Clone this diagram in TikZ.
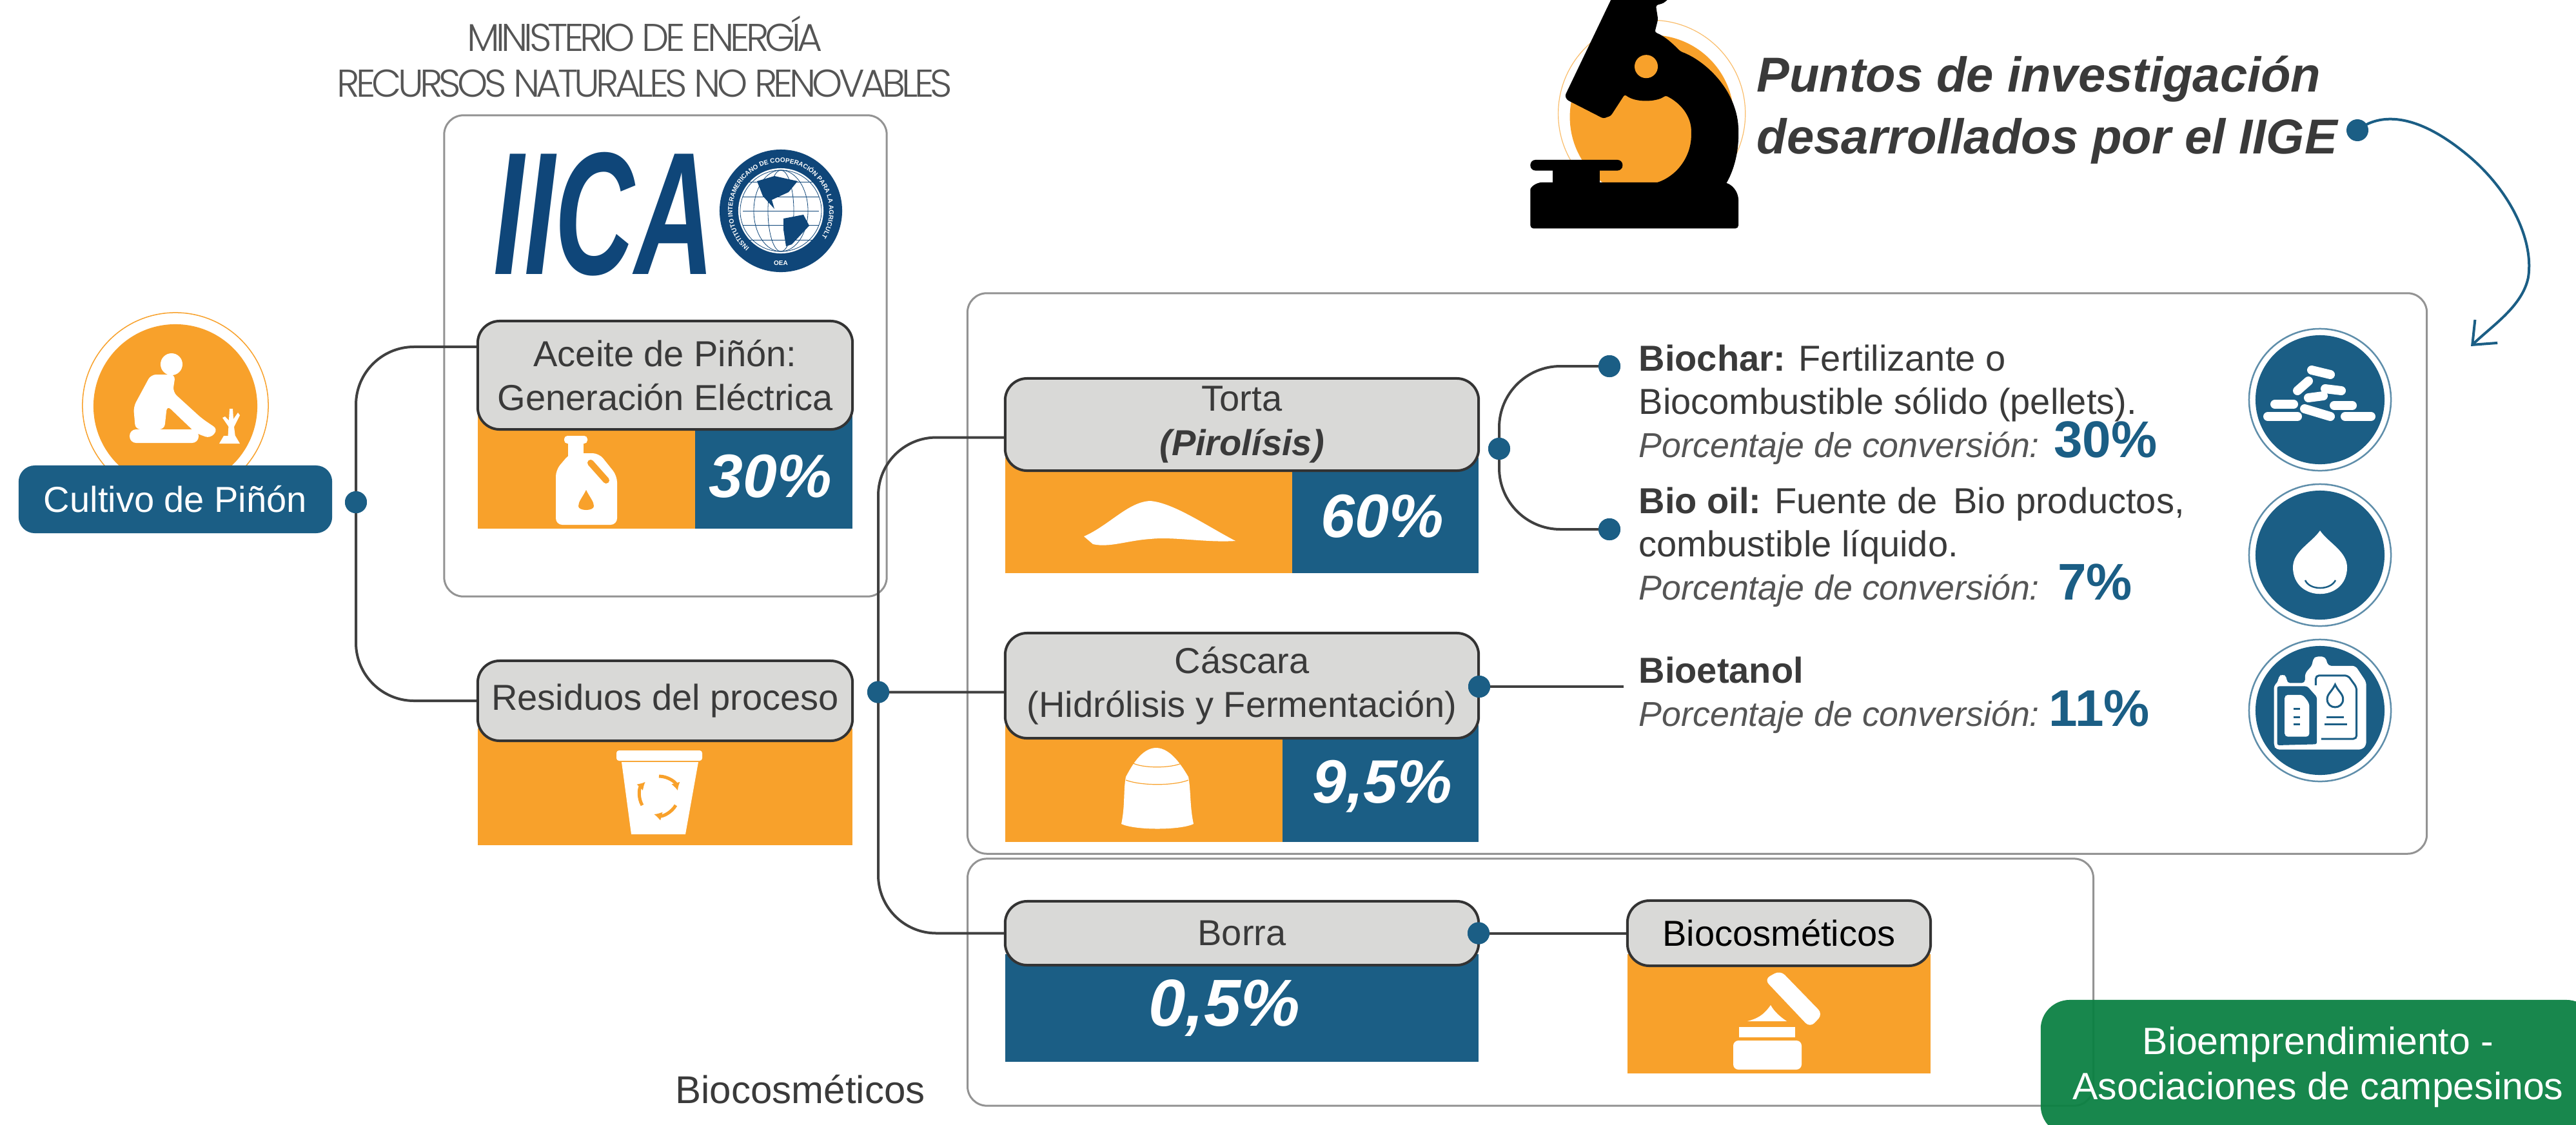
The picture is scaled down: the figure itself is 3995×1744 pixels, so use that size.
\documentclass[tikz,border=0pt]{standalone}
\usepackage{fontspec}
\usepackage{xcolor}
\usepackage{graphicx}
\usepackage{tikz}
\usetikzlibrary{arrows.meta,decorations.text}
\setmainfont{Liberation Sans}
\newfontfamily\thinfont[LetterSpace=-9.5]{Poppins Light}
\definecolor{orangepanel}{HTML}{F8A12B}
\definecolor{bluepanel}{HTML}{1B5E85}
\definecolor{grayhead}{HTML}{D9D9D7}
\definecolor{textdark}{HTML}{3A3A3A}
\definecolor{textgray}{HTML}{555555}
\definecolor{greenbox}{HTML}{0A8042}
\definecolor{navyiica}{HTML}{0F4679}
\newcommand{\convtxt}[2]{{\fontsize{0.537cm}{0.665cm}\selectfont\itshape\color{textgray}Porcentaje de conversión:}\hspace{#1}\smash{\fontsize{0.8cm}{0.8cm}\selectfont\bfseries\color{bluepanel}#2}}
\tikzset{
  framebox/.style={draw=gray!85, line width=0.03cm, rounded corners=0.3cm},
  headbox/.style={draw=black!80, fill=grayhead, line width=0.04cm, rounded corners=0.34cm, text=textdark, align=center, inner sep=0, font=\fontsize{0.56cm}{0.68cm}\selectfont},
  panelorange/.style={fill=orangepanel, inner sep=0},
  panelblue/.style={fill=bluepanel, inner sep=0},
  pctnode/.style={text=white, inner sep=0, font=\fontsize{0.95cm}{1.1cm}\selectfont\bfseries\itshape},
  dotnode/.style={circle, fill=bluepanel, minimum size=0.34cm, inner sep=0},
  link/.style={draw=black!75, line width=0.04cm, rounded corners=0.9cm},
  bodytext/.style={text=textdark, align=left, inner sep=0, anchor=base west, font=\fontsize{0.56cm}{0.665cm}\selectfont},
  ringicon/.style={circle, fill=white, draw=bluepanel!70, line width=0.025cm, minimum size=2.2cm, inner sep=0}
}
\begin{document}
\begin{tikzpicture}[x=0.01cm, y=-0.01cm]%
\path[use as bounding box, fill=white] (0,0) rectangle (3995,1744);%
\node[framebox, minimum width=6.86cm, minimum height=7.46cm] (cajaiica) at (1032,552) {};%
\node[framebox, minimum width=22.62cm, minimum height=8.69cm] (cajaresearch) at (2632,889.5) {};%
\node[framebox, minimum width=17.45cm, minimum height=3.83cm] (cajabio) at (2373.5,1523.5) {};%
\node[text=textgray, align=center, font=\fontsize{0.6cm}{0.71cm}\selectfont\thinfont] (ministerio) at (1000,88) {MINISTERIO DE ENERGÍA\\RECURSOS NATURALES NO RENOVABLES};%
\node[text=navyiica, inner sep=0, anchor=base west, font=\fontsize{2.71cm}{2.71cm}\selectfont\bfseries\itshape] (logoiica) at (765,425) {\scalebox{0.63}[1]{IICA}};%
\fill[navyiica] (1211,327) circle[radius=0.95cm];%
\fill[white] (1211,327) circle[radius=0.66cm];%
\path[decorate, decoration={text along path, text align=center, text={|\fontsize{0.1cm}{0.12cm}\selectfont\bfseries\color{white}|INSTITUTO INTERAMERICANO DE COOPERACIÓN PARA LA AGRICULTURA}}] (1211,327)+(215:0.75cm) arc[start angle=215, end angle=-35, radius=0.75cm];%
\node[text=white, inner sep=0, font=\fontsize{0.1cm}{0.12cm}\selectfont\bfseries] (oea) at (1211,408) {OEA};%
\foreach \rx in {0.2,0.42,0.63} \draw[navyiica, line width=0.008cm] (1211,327) ellipse[x radius=\rx cm, y radius=0.63cm];%
\foreach \dy in {-45,-22,0,22,45} \draw[navyiica, line width=0.008cm] (1152,327+\dy) -- (1270,327+\dy);%
\fill[navyiica] (1174,281) -- (1201,273) -- (1237,281) -- (1223,298) -- (1197,310) -- (1201,324) -- (1183,304) -- cycle;%
\fill[navyiica] (1215,339) -- (1246,333) -- (1255,350) -- (1228,379) -- (1219,382) -- (1215,356) -- cycle;%
\draw[orangepanel, line width=0.015cm] (272,629) circle[radius=1.44cm];%
\fill[orangepanel] (272,630) circle[radius=1.27cm];%
\fill[white] (266,565) circle[radius=0.17cm];%
\fill[white, rounded corners=0.08cm] (234,581) -- (272,581) -- (268,608) -- (313,649) -- (338,666) -- (326,680) -- (304,672) -- (259,629) -- (255,666) -- (210,666) -- (207,631) -- cycle;%
\fill[white, rounded corners=0.1cm] (201,666) rectangle (308,687);%
\fill[white] (353,686) -- (356,634) -- (361,634) -- (362,650) -- (369,640) -- (372,644) -- (363,662) -- (366,686) -- cycle;%
\fill[white] (356,664) -- (345,648) -- (349,646) -- (358,655) -- cycle;%
\fill[white] (340,688) -- (372,688) -- (365,676) -- (347,676) -- cycle;%
\node[fill=bluepanel, rounded corners=0.25cm, text=white, minimum width=4.86cm, minimum height=1.05cm, inner sep=0, font=\fontsize{0.56cm}{0.68cm}\selectfont] (cultivo) at (272,774.5) {Cultivo de Piñón};%
\node[panelorange, minimum width=3.37cm, minimum height=1.8cm] (oaceite) at (909.5,730) {};%
\node[panelblue, minimum width=2.44cm, minimum height=1.8cm] (baceite) at (1200,730) {};%
\node[panelorange, minimum width=5.81cm, minimum height=1.81cm] (oresiduos) at (1031.5,1220.5) {};%
\node[panelorange, minimum width=4.45cm, minimum height=1.79cm] (otorta) at (1781.5,799.5) {};%
\node[panelblue, minimum width=2.89cm, minimum height=1.79cm] (btorta) at (2148.5,799.5) {};%
\node[panelorange, minimum width=4.3cm, minimum height=1.81cm] (ocascara) at (1774,1215.5) {};%
\node[panelblue, minimum width=3.04cm, minimum height=1.81cm] (bcascara) at (2141,1215.5) {};%
\node[panelblue, minimum width=7.34cm, minimum height=1.67cm] (bborra) at (1926,1563.5) {};%
\node[panelorange, minimum width=4.7cm, minimum height=1.85cm] (obiocos) at (2759,1572.5) {};%
\node[headbox, minimum width=5.81cm, minimum height=1.68cm] (aceite) at (1031.5,582) {Aceite de Piñón:\\Generación Eléctrica};%
\node[headbox, minimum width=5.81cm, minimum height=1.24cm] (residuos) at (1031.5,1087) {Residuos del proceso};%
\node[headbox, minimum width=7.34cm, minimum height=1.43cm] (torta) at (1926,658.5) {Torta\\{\bfseries\itshape (Pirolísis)}};%
\node[headbox, minimum width=7.34cm, minimum height=1.63cm] (cascara) at (1926,1063.5) {Cáscara\\(Hidrólisis y Fermentación)};%
\node[headbox, minimum width=7.34cm, minimum height=0.99cm] (borra) at (1926,1447.5) {Borra};%
\node[headbox, minimum width=4.7cm, minimum height=1.01cm, text=black] (biocos) at (2759,1447.5) {Biocosméticos};%
\node[pctnode] (vaceite) at (1195,739) {30\%};%
\node[pctnode] (vtorta) at (2144,801) {60\%};%
\node[pctnode] (vcascara) at (2144,1220) {9,5\%};%
\node[pctnode, font=\fontsize{1.03cm}{1.2cm}\selectfont\bfseries\itshape] (vborra) at (1899,1563) {0,5\%};%
\fill[white, rounded corners=0.05cm] (875,676) rectangle (911,688);%
\fill[white] (881,686) rectangle (905,710);%
\fill[white, rounded corners=0.1cm] (884,703) -- (929,703) -- (957,738) -- (957,814) -- (862,814) -- (862,729) -- cycle;%
\draw[orangepanel, line width=0.1cm, line cap=round] (916,718) -- (940,745);%
\fill[orangepanel] (909,760) .. controls (903,772) and (897,778) .. (897,785) .. controls (897,793) and (921,793) .. (921,785) .. controls (921,778) and (915,772) .. (909,760) -- cycle;%
\fill[white] (1681,832) .. controls (1720,815) and (1750,778) .. (1784,777) .. controls (1820,780) and (1870,815) .. (1916,839) .. controls (1870,842) and (1820,832) .. (1784,836) .. controls (1750,838) and (1720,850) .. (1695,844) -- cycle;%
\fill[white] (964,1182) -- (1083,1182) -- (1063,1294) -- (979,1294) -- cycle;%
\fill[white, rounded corners=0.04cm] (956,1164) rectangle (1089,1180);%
\foreach \a in {90,210,330} \draw[orangepanel, line width=0.05cm, -{Latex[length=0.12cm, width=0.14cm]}] (1022,1234)+(\a:0.3cm) arc[start angle=\a, delta angle=-75, radius=0.3cm];%
\fill[white] (1739,1278) .. controls (1745,1250) and (1742,1225) .. (1746,1205) .. controls (1754,1190) and (1770,1160) .. (1793,1160) .. controls (1816,1160) and (1834,1190) .. (1843,1205) .. controls (1847,1225) and (1845,1250) .. (1851,1278) .. controls (1830,1288) and (1760,1288) .. (1739,1278) -- cycle;%
\draw[orangepanel, line width=0.012cm] (1756,1183) .. controls (1770,1192) and (1818,1192) .. (1834,1183) (1746,1210) .. controls (1770,1219) and (1820,1219) .. (1843,1210);%
\fill[white, rounded corners=0.1cm] (2736,1519) -- (2761,1505) -- (2827,1573) -- (2807,1594) -- cycle;%
\fill[white] (2710,1584) .. controls (2725,1580) and (2735,1575) .. (2746,1559) .. controls (2752,1570) and (2762,1578) .. (2771,1584) -- cycle;%
\fill[white] (2697,1593) rectangle (2784,1609);%
\fill[white, rounded corners=0.08cm] (2688,1614) rectangle (2794,1659);%
\node[dotnode] (dotcultivo) at (552,779) {};%
\node[dotnode] (dotresiduos) at (1362,1073.5) {};%
\node[dotnode] (dottorta) at (2325,696) {};%
\node[dotnode] (dotbiochar) at (2496,568) {};%
\node[dotnode] (dotbiooil) at (2496,821) {};%
\node[dotnode] (dotcascara) at (2294,1065) {};%
\node[dotnode] (dotborra) at (2293,1447.5) {};%
\node[dotnode] (dotiige) at (3656,202) {};%
\coordinate (finbioetanol) at (2518,1065);%
\coordinate (flecha) at (3832,537);%
\draw[link] (dotcultivo.center) |- ([yshift=0.44cm]aceite.west);%
\draw[link] (dotcultivo.center) |- (residuos.west);%
\draw[link] (dotresiduos.center) |- ([yshift=-0.2cm]torta.west);%
\draw[link] (dotresiduos.center) |- (borra.west);%
\draw[link] (dotresiduos.center) -- ([yshift=-0.1cm]cascara.west);%
\draw[link, rounded corners=0.95cm] (dottorta.center) |- (dotbiochar.center);%
\draw[link, rounded corners=0.95cm] (dottorta.center) |- (dotbiooil.center);%
\draw[link] (dotcascara.center) -- (finbioetanol);%
\draw[link] (dotborra.center) -- (biocos.west);%
\node[dotnode] at (dotcultivo) {};%
\node[dotnode] at (dotresiduos) {};%
\node[dotnode] at (dottorta) {};%
\node[dotnode] at (dotbiochar) {};%
\node[dotnode] at (dotbiooil) {};%
\node[dotnode] at (dotcascara) {};%
\node[dotnode] at (dotborra) {};%
\draw[bluepanel, line width=0.04cm, -{Straight Barb[length=0.3cm, width=0.5cm]}] (dotiige.center) .. controls (3690,175) and (3745,175) .. (3820,235) .. controls (3890,290) and (3930,370) .. (3921,430) .. controls (3912,475) and (3865,505) .. (flecha);%
\node[inner sep=0, anchor=base west, text=textdark, align=left, font=\fontsize{0.76cm}{0.95cm}\selectfont\bfseries\itshape] (titulo) at (2724,238) {Puntos de investigación\\desarrollados por el IIGE};%
\node[bodytext] (biochar) at (2541,709) {{\bfseries Biochar:} Fertilizante o\\Biocombustible sólido (pellets).\\\convtxt{0.22cm}{30\%}};%
\node[bodytext] (biooil) at (2541,930) {{\bfseries Bio oil:} Fuente de\, Bio productos,\\combustible líquido.\\\convtxt{0.28cm}{7\%}};%
\node[bodytext] (bioetanol) at (2541,1126) {{\bfseries Bioetanol}\\\convtxt{0.15cm}{11\%}};%
\node[ringicon] (iconopellets) at (3598,620) {};%
\node[ringicon] (iconogota) at (3598,861) {};%
\node[ringicon] (iconobidon) at (3598,1102) {};%
\foreach \nombre in {iconopellets,iconogota,iconobidon} \fill[bluepanel] (\nombre) circle[radius=1cm];%
\foreach \xa/\ya/\xb/\yb in {3585/574/3614/581, 3580/591/3563/606, 3606/603/3631/606, 3580/617/3603/614, 3528/627/3557/627, 3620/629/3648/629, 3517/646/3563/646, 3574/634/3614/646, 3637/646/3677/646} \draw[white, line width=0.14cm, line cap=round] (\xa,\ya) -- (\xb,\yb);%
\fill[white] (3598,823) .. controls (3585,842) and (3556,855) .. (3556,880) .. controls (3556,935) and (3640,935) .. (3640,880) .. controls (3640,855) and (3611,842) .. (3598,823) -- cycle;%
\draw[bluepanel, line width=0.025cm] (3575,900) .. controls (3582,916) and (3614,916) .. (3622,900);%
\begin{scope}[shift={(3450,730)}, x=0.00333cm, y=-0.00333cm]%
\fill[white, rounded corners=0.05cm] (375,945) -- (410,905) -- (410,878) -- (430,865) -- (470,868) -- (482,910) -- (610,910) -- (660,985) -- (660,1280) -- (640,1300) -- (240,1300) -- (230,1280) -- (230,1000) -- (250,985) -- (250,960) -- (270,948) -- (290,960) -- (290,990) -- (375,990) -- cycle;%
\fill[bluepanel, rounded corners=0.03cm] (245,1005) -- (385,1005) -- (430,1055) -- (430,1275) -- (245,1280) -- cycle;%
\fill[white, rounded corners=0.05cm] (280,1045) -- (365,1045) -- (395,1085) -- (395,1240) -- (280,1240) -- cycle;%
\foreach \dy in {1110,1148,1183} \draw[bluepanel, line width=0.03cm] (320,\dy) -- (350,\dy);%
\draw[bluepanel, line width=0.03cm, rounded corners=0.05cm] (425,1000) -- (425,955) -- (575,955) -- (615,1010) -- (615,1250) -- (450,1250);%
\draw[bluepanel, line width=0.03cm] (515,997) .. controls (500,1030) and (478,1040) .. (478,1065) .. controls (478,1115) and (552,1115) .. (552,1065) .. controls (552,1040) and (530,1030) .. (515,997) -- cycle;%
\draw[bluepanel, line width=0.03cm] (475,1148) -- (555,1148) (465,1183) -- (570,1183);%
\end{scope}%
\begin{scope}[shift={(2350,0)}, x=0.00333cm, y=-0.00333cm]%
\draw[orangepanel!70, line width=0.012cm] (636,530) circle[radius=1.45cm];%
\fill[orangepanel] (636,545) circle[radius=1.27cm];%
\fill[black, rounded corners=0.03cm] (450,-10) -- (720,-10) -- (690,15) -- (655,25) -- (665,90) -- (650,150) .. controls (700,170) and (740,210) .. (770,240) .. controls (880,280) and (1040,420) .. (1040,620) .. controls (1040,720) and (1015,800) .. (980,860) -- (620,860) .. controls (740,840) and (820,740) .. (820,620) .. controls (820,540) and (770,480) .. (700,445) .. controls (660,475) and (560,480) .. (510,440) -- (445,540) -- (410,552) -- (240,465) -- (232,445) -- cycle;%
\fill[black, rounded corners=0.05cm] (70,1065) -- (70,900) .. controls (70,870) and (100,850) .. (140,850) -- (980,850) .. controls (1020,870) and (1040,900) .. (1040,950) -- (1040,1065) -- cycle;%
\fill[black, rounded corners=0.08cm] (70,745) rectangle (500,795);%
\fill[black] (175,790) rectangle (395,855);%
\fill[orangepanel] (610,310) circle[radius=0.18cm];%
\end{scope}%
\node[text=textdark, inner sep=0, font=\fontsize{0.6cm}{0.7cm}\selectfont] (biocosnota) at (1241,1690) {Biocosméticos};%
\node[fill=greenbox, fill opacity=0.94, text opacity=1, text=white, rounded corners=0.45cm, minimum width=8.6cm, minimum height=2.09cm, inner sep=0, align=center, font=\fontsize{0.59cm}{0.7cm}\selectfont] (bioemprendimiento) at (3595,1655.5) {Bioemprendimiento -\\Asociaciones de campesinos};%
\end{tikzpicture}
\end{document}
